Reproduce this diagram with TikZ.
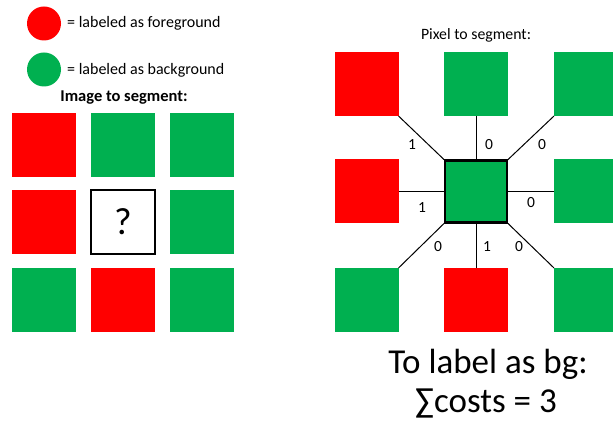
\documentclass[tikz,border=0pt]{standalone}
\usepackage{fontspec}
\setmainfont{Carlito}
\definecolor{fgred}{HTML}{FF0000}
\definecolor{bggreen}{HTML}{00B050}
\begin{document}
\begin{tikzpicture}[x=1pt,y=-1pt,
  cell/.style={minimum size=64pt,inner sep=0pt,outer sep=0pt,draw=none},
  red cell/.style={cell,fill=fgred},
  green cell/.style={cell,fill=bggreen},
  conn/.style={line width=1pt,black},
  cost/.style={font=\fontsize{15.5}{17}\selectfont,inner sep=0pt},
  legend/.style={font=\fontsize{16}{18}\selectfont,anchor=west,inner sep=0pt},
  big/.style={font=\fontsize{35}{38}\selectfont,inner sep=0pt}]
\path[use as bounding box,fill=white] (0,0) rectangle (613,422);
% legend
\fill[fgred] (44,23.5) circle (17);
\fill[bggreen] (44,69.5) circle (17);
\node[legend] (l1) at (67,23) {= labeled as foreground};
\node[legend] (l2) at (67,70) {= labeled as background};
\node[font=\fontsize{16.5}{18}\selectfont\bfseries,inner sep=0pt] (t1) at (124,98) {Image to segment:};
% left grid
\node[red cell] (a11) at (44,145) {};
\node[green cell] (a12) at (123,145) {};
\node[green cell] (a13) at (202,145) {};
\node[red cell] (a21) at (44,222) {};
\node[cell,fill=white,draw=black,line width=2.5pt,minimum size=64pt] (a22) at (123,222) {\fontsize{38}{40}\selectfont ?};
\node[green cell] (a23) at (202,222) {};
\node[green cell] (a31) at (44,300) {};
\node[red cell] (a32) at (123,300) {};
\node[green cell] (a33) at (202,300) {};
% right
\node[font=\fontsize{15.8}{18}\selectfont,inner sep=0pt] (t2) at (476,35) {Pixel to segment:};
\node[red cell] (b11) at (366.5,84) {};
\node[green cell] (b12) at (476,84) {};
\node[green cell] (b13) at (586,84) {};
\node[red cell] (b21) at (366.5,191.5) {};
\node[green cell,draw=black,line width=2.5pt,minimum size=62pt] (c) at (476,191.5) {};
\node[green cell] (b23) at (586,191.5) {};
\node[green cell] (b31) at (366.5,300) {};
\node[red cell] (b32) at (476,300) {};
\node[green cell] (b33) at (586,300) {};
\draw[conn] (b11.south east) -- (c.north west);
\draw[conn] (b12.south) -- (c.north);
\draw[conn] (b13.south west) -- (c.north east);
\draw[conn] (b21.east) -- (c.west);
\draw[conn] (b23.west) -- (c.east);
\draw[conn] (b31.north east) -- (c.south west);
\draw[conn] (b32.north) -- (c.south);
\draw[conn] (b33.north west) -- (c.south east);
\node[cost] (k1) at (412,145) {1};
\node[cost] (k2) at (489,145) {0};
\node[cost] (k3) at (542,145) {0};
\node[cost] (k4) at (422,208) {1};
\node[cost] (k5) at (531,203) {0};
\node[cost] (k6) at (438,247) {0};
\node[cost] (k7) at (487,247) {1};
\node[cost] (k8) at (519,247) {0};
\node[big,anchor=base] (s1) at (488,373) {To label as bg:};
\node[big,anchor=base] (s2) at (486,412) {∑costs = 3};
\end{tikzpicture}
\end{document}
